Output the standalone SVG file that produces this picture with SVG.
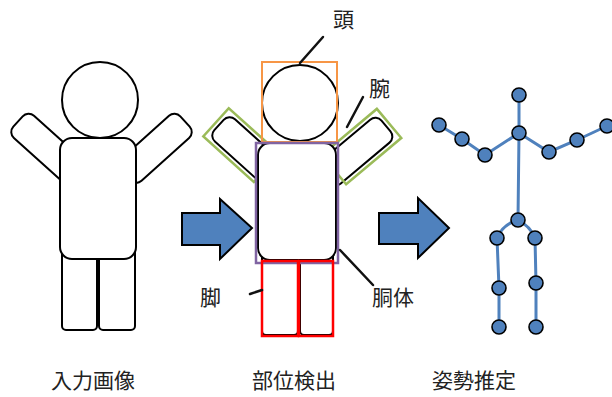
<svg xmlns="http://www.w3.org/2000/svg" width="612" height="397" viewBox="0 0 612 397">
  <style>
    .body { fill: #ffffff; stroke: #000000; stroke-width: 2; }
    .label { font-family: "Noto Sans CJK JP", "Noto Sans", sans-serif; font-size: 21px; fill: #222222; }
    .leader { fill: none; stroke: #111111; stroke-width: 2.5; stroke-linecap: round; }
    .arrow { fill: #4f81bd; stroke: #000000; stroke-width: 2; stroke-linejoin: miter; }
    .bone { fill: none; stroke: #4f81bd; stroke-width: 3; stroke-linecap: round; }
    .joint { fill: #4f81bd; stroke: #000000; stroke-width: 1.6; }
    .box-head { fill: none; stroke: #f79646; stroke-width: 2; }
    .box-arm { fill: none; stroke: #9bbb59; stroke-width: 2.5; }
    .box-torso { fill: none; stroke: #8064a2; stroke-width: 2.5; }
    .box-leg { fill: none; stroke: #ff0000; stroke-width: 2.5; }
  </style>

  <!-- Input image: simple stick figure -->
  <g id="input-figure">
    <rect class="body" x="0" y="-15" width="80" height="30" rx="8" transform="translate(18,121.5) rotate(42)"/>
    <rect class="body" x="0" y="-15" width="80" height="30" rx="8" transform="translate(185,121.5) rotate(138)"/>
    <rect class="body" x="62" y="240" width="35" height="90" rx="4"/>
    <rect class="body" x="99" y="240" width="36" height="90" rx="4"/>
    <rect class="body" x="60" y="138" width="76" height="121" rx="12"/>
    <circle class="body" cx="100" cy="100" r="38"/>
  </g>

  <!-- Part detection: the same figure with part boxes -->
  <g id="parts-figure">
    <rect class="body" x="0" y="-15" width="80" height="30" rx="8" transform="translate(219,125) rotate(42)"/>
    <rect class="body" x="0" y="-15" width="80" height="30" rx="8" transform="translate(386,126) rotate(140)"/>
    <rect class="box-arm" x="-4" y="-19" width="68" height="38" transform="translate(219,125) rotate(42)"/>
    <rect class="box-arm" x="-4" y="-19" width="72" height="38" transform="translate(386,126) rotate(140)"/>
    <rect class="body" x="262" y="245" width="36" height="90" rx="4"/>
    <rect class="body" x="300" y="245" width="33" height="90" rx="4"/>
    <rect class="body" x="258" y="143" width="78" height="117" rx="12"/>
    <circle class="body" cx="300" cy="103" r="38"/>
  </g>

  <g id="part-boxes">
    <rect class="box-head" x="262" y="62" width="75" height="80"/>
    <rect class="box-torso" x="256" y="143" width="82" height="120"/>
    <rect class="box-leg" x="262" y="261" width="36" height="75"/>
    <rect class="box-leg" x="299" y="261" width="34" height="75"/>
  </g>

  <!-- Pose estimation: joint skeleton -->
  <g id="skeleton">
    <g class="bones">
      <path class="bone" d="M519,95 L519,133 L518,220"/>
      <path class="bone" d="M519,133 L485,155 L462,139 L439,125"/>
      <path class="bone" d="M519,133 L549,152 L577,140 L607,126"/>
      <path class="bone" d="M518,220 Q503,224 497,238 L499,288 L499,327"/>
      <path class="bone" d="M518,220 Q530,226 535,238 L536,283 L536,327"/>
    </g>
    <g class="joints">
      <circle class="joint" cx="519" cy="95" r="7"/>
      <circle class="joint" cx="519" cy="133" r="7"/>
      <circle class="joint" cx="485" cy="155" r="7"/>
      <circle class="joint" cx="462" cy="139" r="7"/>
      <circle class="joint" cx="439" cy="125" r="7"/>
      <circle class="joint" cx="549" cy="152" r="7"/>
      <circle class="joint" cx="577" cy="140" r="7"/>
      <circle class="joint" cx="607" cy="126" r="7"/>
      <circle class="joint" cx="518" cy="220" r="7"/>
      <circle class="joint" cx="497" cy="238" r="7"/>
      <circle class="joint" cx="535" cy="238" r="7"/>
      <circle class="joint" cx="499" cy="288" r="7"/>
      <circle class="joint" cx="536" cy="283" r="7"/>
      <circle class="joint" cx="499" cy="327" r="7"/>
      <circle class="joint" cx="536" cy="327" r="7"/>
    </g>
  </g>

  <!-- Block arrows between stages -->
  <g id="arrow-1">
    <polygon class="arrow" points="182,213 220,213 220,199 252,228 220,259 220,245 182,245"/>
  </g>
  <g id="arrow-2">
    <polygon class="arrow" points="379,213 418,213 418,198 449,228 418,258 418,244 379,244"/>
  </g>

  <!-- Leader lines for part names -->
  <g id="connectors">
    <line class="leader" x1="323" y1="37" x2="300" y2="63"/>
    <line class="leader" x1="363" y1="97" x2="347" y2="127"/>
    <line class="leader" x1="250" y1="294" x2="262" y2="290"/>
    <line class="leader" x1="340" y1="250" x2="373" y2="285"/>
  </g>

  <g id="part-labels">
    <text class="label" x="333" y="27">頭</text>
    <text class="label" x="369" y="96">腕</text>
    <text class="label" x="200" y="305">脚</text>
    <text class="label" x="372" y="305">胴体</text>
  </g>

  <g id="stage-labels">
    <text class="label" x="51" y="388">入力画像</text>
    <text class="label" x="252" y="388">部位検出</text>
    <text class="label" x="432" y="388">姿勢推定</text>
  </g>
</svg>
